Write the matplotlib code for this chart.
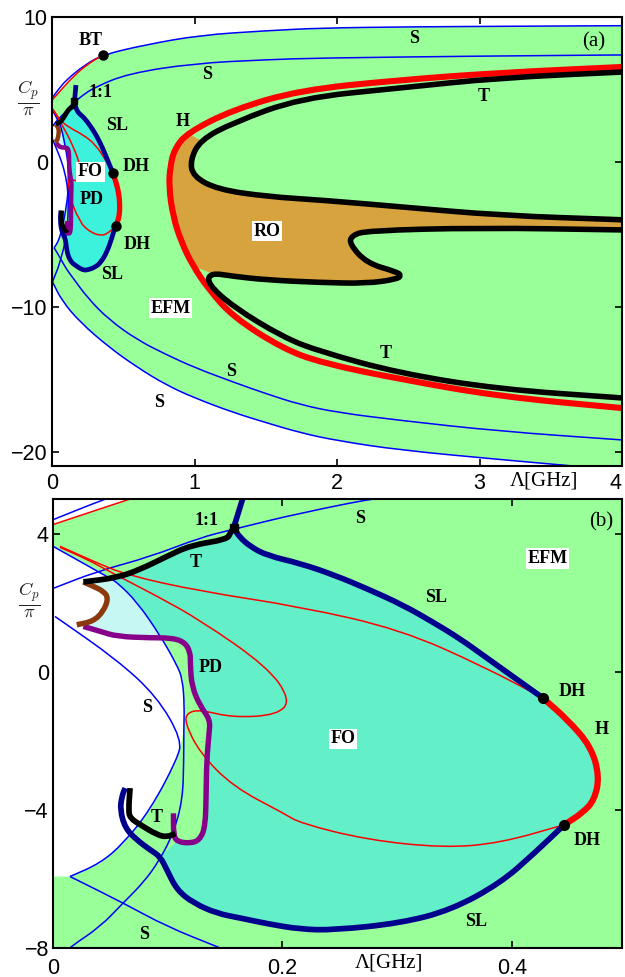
import matplotlib
matplotlib.use('Agg')
import matplotlib.pyplot as plt
from matplotlib.transforms import blended_transform_factory
from matplotlib.path import Path
from matplotlib.patches import PathPatch

# ---------------- data (Lambda [GHz], Cp/pi) ----------------
R0 = [(0.0, 4.26), (0.067, 5.0), (0.15, 5.9), (0.25, 6.75), (0.36, 7.4)]
B1 = [(0.0, 4.4), (0.045, 5.0), (0.1, 5.65), (0.23, 6.7), (0.36, 7.4), (0.65, 8.07),
      (1.04, 8.75), (1.5, 9.05), (1.88, 9.24), (2.5, 9.32), (3.2, 9.36), (4.0, 9.4)]
B2 = [(0.0, 2.41), (0.038, 2.9), (0.085, 3.33), (0.128, 3.88), (0.157, 4.12), (0.216, 4.6),
      (0.3, 5.15), (0.535, 6.1), (1.0, 6.8), (1.5, 7.05), (1.88, 7.17), (3.0, 7.3), (4.0, 7.38)]
B3 = [(0.0, 3.63), (0.05, 2.70), (0.056, 2.58), (0.073, 2.03), (0.093, 1.07), (0.108, 0.2),
      (0.113, -0.23), (0.1145, -1.0), (0.114, -1.68), (0.114, -2.55), (0.113, -3.71),
      (0.105, -4.67), (0.093, -5.45), (0.079, -6.1), (0.061, -6.7), (0.041, -7.39),
      (0.015, -7.97), (0.004, -8.3)]
B4 = [(0.0017, 1.6), (0.0556, 0.35), (0.0906, -0.72), (0.1124, -1.97), (0.108, -2.55),
      (0.0847, -4.0), (0.0614, -4.97), (0.041, -5.55), (0.0148, -5.93)]
L1 = [(0.0148, -5.93), (0.0614, -6.7), (0.0993, -7.38), (0.143, -7.96), (0.25, -9.4),
      (0.4, -10.9), (0.6, -12.3), (0.8, -13.3), (1.0, -14.2), (1.27, -15.2), (1.5, -16.0),
      (1.74, -16.76), (2.0, -17.3), (2.44, -17.85), (3.14, -18.6), (4.0, -19.2)]
L2 = [(0.004, -8.3), (0.07, -9.6), (0.2, -11.1), (0.4, -12.8), (0.6, -14.2), (0.8, -15.4),
      (1.0, -16.3), (1.27, -17.3), (1.5, -18.0), (1.74, -18.7), (2.0, -19.25), (2.44, -19.9),
      (3.14, -20.55), (3.6, -20.95), (4.0, -21.3)]
R1 = [(0.0061, 3.63), (0.035, 3.2), (0.064, 2.8), (0.128, 2.33), (0.216, 1.88), (0.303, 1.22),
      (0.376, 0.14), (0.427, -0.76)]
R2 = [(0.0061, 3.6), (0.03, 3.25), (0.052, 2.85), (0.09, 2.2), (0.128, 1.5), (0.187, 0.14),
      (0.207, -0.81), (0.196, -1.25), (0.157, -1.33), (0.128, -1.1), (0.117, -1.19),
      (0.115, -1.48), (0.128, -2.35), (0.157, -3.33), (0.2011, -4.1), (0.2157, -4.39),
      (0.274, -4.87), (0.341, -5.1), (0.39, -4.96), (0.4457, -4.43)]
SL_STUB = [(0.1575, 4.17), (0.1633, 4.79), (0.168, 5.3)]
SL_UP = [(0.1575, 4.17), (0.162, 3.92), (0.172, 3.62), (0.187, 3.36), (0.216, 3.13),
         (0.245, 2.8), (0.274, 2.4), (0.305, 1.93), (0.332, 1.42), (0.355, 0.95),
         (0.376, 0.45), (0.40, -0.12), (0.427, -0.76)]
HS = [(0.427, -0.76), (0.4486, -1.39), (0.469, -2.17), (0.4763, -3.03), (0.472, -3.71),
      (0.462, -4.08), (0.4457, -4.43)]
SL_LOW = [(0.4457, -4.43), (0.4195, -5.26), (0.390, -6.12), (0.347, -6.9), (0.303, -7.28),
          (0.245, -7.48), (0.216, -7.46), (0.187, -7.3), (0.163, -7.13), (0.143, -7.0),
          (0.1225, -6.7), (0.108, -6.32), (0.0993, -5.74), (0.0934, -5.35), (0.0847, -5.16),
          (0.073, -4.87), (0.0629, -4.53), (0.0585, -4.0), (0.060, -3.61), (0.0629, -3.37)]
T_UP_S = [(0.0265, 2.6), (0.0556, 2.72), (0.076, 2.96), (0.0993, 3.34), (0.12, 3.66),
          (0.1517, 3.83), (0.1546, 4.02), (0.1575, 4.17)]
T_LOW_S = [(0.0672, -3.37), (0.0658, -4.0), (0.0672, -4.24), (0.076, -4.43), (0.0905, -4.72),
           (0.0993, -4.79), (0.1066, -4.68)]
PD = [(0.105, -4.1), (0.105, -4.72), (0.108, -4.92), (0.1197, -4.97), (0.128, -4.87),
      (0.1328, -4.48), (0.1335, -3.52), (0.134, -2.55), (0.136, -1.8), (0.137, -1.39),
      (0.1284, -1.0), (0.121, -0.43), (0.1197, 0.2), (0.1197, 0.59), (0.1138, 0.88),
      (0.102, 0.98), (0.0847, 0.98), (0.0556, 1.02), (0.041, 1.17), (0.0265, 1.31)]
BR = [(0.0207, 1.36), (0.0352, 1.46), (0.044, 1.75), (0.0483, 2.13), (0.044, 2.33),
      (0.0352, 2.47), (0.0265, 2.6)]
H_BIG = [(4.0, 6.55), (3.14, 6.15), (2.44, 5.65), (1.74, 4.95), (1.27, 3.6), (0.95, 2.0),
         (0.86, 0.9), (0.83, -0.3), (0.82, -1.7), (0.85, -3.8), (0.91, -5.6), (0.99, -7.2),
         (1.1, -8.8), (1.27, -10.7), (1.62, -12.9), (1.9, -13.9), (2.44, -15.0),
         (3.14, -16.2), (4.0, -17.0)]
T_UP_B = [(4.0, 6.2), (3.14, 5.8), (2.44, 5.1), (1.74, 4.4), (1.27, 2.7), (1.04, 1.5),
          (0.97, 0.1), (0.99, -1.0), (1.16, -1.9), (1.51, -2.4), (1.9, -2.65), (2.44, -3.1),
          (3.14, -3.7), (4.0, -4.0)]
T_LOW_B = [(4.0, -4.7), (3.0, -4.55), (2.21, -4.75), (2.1, -5.1), (2.09, -5.7), (2.21, -7.0),
           (2.42, -7.6), (2.45, -7.85), (2.42, -8.1), (2.21, -8.4), (1.88, -8.33),
           (1.5, -8.15), (1.27, -7.9), (1.11, -7.66), (1.09, -8.4), (1.27, -10.0),
           (1.62, -12.1), (1.88, -13.1), (2.44, -14.6), (3.14, -15.7), (4.0, -16.3)]
DOTS_A = [(0.36, 7.4), (0.427, -0.76), (0.4457, -4.43)]
DOTS_B = [(0.427, -0.76), (0.4457, -4.43)]

LABELS_A = [("BT", 0.27, 8.4), ("S", 2.54, 8.55), ("S", 1.09, 6.0), ("1:1", 0.34, 4.8),
            ("T", 3.03, 4.5), ("H", 0.92, 2.8), ("SL", 0.46, 2.5), ("DH", 0.59, -0.35),
            ("PD", 0.28, -2.6), ("DH", 0.6, -5.7), ("SL", 0.42, -7.8), ("T", 2.34, -13.2),
            ("S", 1.26, -14.5), ("S", 0.75, -16.6)]
BOXED_A = [("FO", 0.27, -0.7), ("RO", 1.51, -4.8), ("EFM", 0.83, -10.1)]
LABELS_B = [("1:1", 0.134, 4.38), ("S", 0.268, 4.43), ("T", 0.124, 3.16), ("SL", 0.334, 2.14),
            ("PD", 0.137, 0.12), ("DH", 0.453, -0.58), ("S", 0.082, -1.04), ("H", 0.478, -1.68),
            ("T", 0.09, -4.23), ("DH", 0.466, -4.9), ("SL", 0.369, -7.22), ("S", 0.079, -7.62)]
BOXED_B = [("EFM", 0.431, 3.28), ("FO", 0.253, -1.94)]

# ---------------- styles ----------------
GREEN = '#99FF99'
CYAN = '#3DF2DC'
STRIPE = '#63EFC8'
LIGHTC = '#C6F7F2'
ORANGE = '#D6A33E'
NAVY = '#00008C'
BLUE = '#0000FF'
RED = '#FF0000'
PURPLE = '#86008A'
BROWN = '#8B3A0F'

plt.rcParams['font.family'] = ['Liberation Sans', 'DejaVu Sans']
plt.rcParams['mathtext.fontset'] = 'cm'

fig = plt.figure(figsize=(6.25, 9.77), dpi=100)
ax_a = fig.add_axes([52 / 625, 1 - 466 / 977, 570 / 625, 449 / 977])
ax_b = fig.add_axes([53 / 625, 1 - 948 / 977, 569 / 625, 449 / 977])


def xy(pts):
    return [p[0] for p in pts], [p[1] for p in pts]


def smooth_path(pts):
    """Quadratic-Bezier path using the points as control points (rendered by matplotlib)."""
    verts = [pts[0]]
    codes = [Path.MOVETO]
    if len(pts) < 3:
        verts += pts[1:]
        codes += [Path.LINETO] * (len(pts) - 1)
        return Path(verts, codes)
    mid = lambda p, q: ((p[0] + q[0]) / 2.0, (p[1] + q[1]) / 2.0)
    verts.append(mid(pts[0], pts[1]))
    codes.append(Path.LINETO)
    for i in range(1, len(pts) - 1):
        verts += [pts[i], mid(pts[i], pts[i + 1])]
        codes += [Path.CURVE3, Path.CURVE3]
    verts.append(pts[-1])
    codes.append(Path.LINETO)
    return Path(verts, codes)


def line(ax, pts, color, lw, z):
    ax.add_patch(PathPatch(smooth_path(pts), facecolor='none', edgecolor=color, lw=lw,
                           capstyle='butt', joinstyle='round', zorder=z))


def region(ax, pts, color, z):
    x, y = xy(pts)
    ax.fill(x, y, facecolor=color, edgecolor='none', zorder=z, lw=0)


green_poly = R0 + B1[5:] + [(4.0, -22.0)] + L2[::-1] + [(0.0, -8.3)]
white_poly = B3[0:2] + BR[::-1] + PD[16:][::-1] + B3[4:9] + B4[3:] + [(0.0, B4[-1][1])]
fo_poly = SL_UP + HS[1:] + SL_LOW[1:14] + PD[2:16] + B3[4:0:-1] + T_UP_S[1:]
lc_poly = BR + [B3[1]] + B3[2:5] + PD[16:]
ro_poly = H_BIG[5:12] + T_LOW_B[13::-1] + T_UP_B[13:4:-1]


def draw(ax, big, fo_color):
    thick = 3.4 if big else 4.1
    thin = 1.1
    region(ax, green_poly, GREEN, 1)
    region(ax, white_poly, 'white', 2)
    region(ax, fo_poly, fo_color, 2)
    region(ax, lc_poly, LIGHTC, 2)
    if big:
        region(ax, ro_poly, ORANGE, 2)
    for c in (B1, B2, B3, B4, L1, L2):
        line(ax, c, BLUE, thin, 4)
    for c in (R0, R1, R2):
        line(ax, c, RED, thin, 4)
    line(ax, H_BIG, RED, 4.4, 5)
    line(ax, T_UP_B, 'black', 4.0, 6)
    line(ax, T_LOW_B, 'black', 4.0, 6)
    line(ax, SL_UP, NAVY, thick, 6)
    line(ax, SL_LOW, NAVY, thick, 6)
    line(ax, SL_STUB, NAVY, thick, 6)
    line(ax, HS, RED, thick + 0.4, 6)
    line(ax, PD, PURPLE, thick - 0.2, 7)
    line(ax, BR, BROWN, thick - 0.2, 7)
    line(ax, T_UP_S, 'black', thick, 8)
    line(ax, T_LOW_S, 'black', thick, 8)
    ax.plot([T_UP_S[-1][0]], [T_UP_S[-1][1]], 's', color='black', ms=5 if big else 6, zorder=9)


draw(ax_a, True, CYAN)
draw(ax_b, False, STRIPE)

for (x, y) in DOTS_A:
    ax_a.plot([x], [y], 'o', color='black', ms=6.5, zorder=10)
for (x, y) in DOTS_B:
    ax_b.plot([x], [y], 'o', color='black', ms=7, zorder=10)

lab_kw = dict(family='Liberation Serif', weight='bold', fontsize=13, ha='center', va='center', zorder=11)
for ax, labs, boxed in ((ax_a, LABELS_A, BOXED_A), (ax_b, LABELS_B, BOXED_B)):
    for t, x, y in labs:
        ax.text(x, y, t, **lab_kw)
    for t, x, y in boxed:
        ax.text(x, y, t, bbox=dict(facecolor='white', edgecolor='none', pad=1.2), **lab_kw)

ax_a.text(3.8, 8.3, '(a)', family='Liberation Serif', fontsize=15, ha='center', va='center', zorder=11)
ax_b.text(0.478, 4.35, '(b)', family='Liberation Serif', fontsize=15, ha='center', va='center', zorder=11)

# axes formatting
ax_a.set_xlim(0, 4)
ax_a.set_ylim(-21, 10)
ax_a.set_xticks([0, 1, 2, 3, 4])
ax_a.set_xticklabels(['0', '1', '2', '3', '4'])
ax_a.set_yticks([-20, -10, 0, 10])
ax_a.set_yticklabels(['\u221220', '\u221210', '0', '10'])
ax_b.set_xlim(0, 0.496)
ax_b.set_ylim(-8, 5)
ax_b.set_xticks([0, 0.2, 0.4])
ax_b.set_xticklabels(['0', '0.2', '0.4'])
ax_b.set_yticks([-8, -4, 0, 4])
ax_b.set_yticklabels(['\u22128', '\u22124', '0', '4'])

for ax, pad in ((ax_a, 5), (ax_b, 7)):
    ax.set_facecolor('white')
    ax.tick_params(direction='in', top=True, right=True, length=5, width=1.2, labelsize=15.5)
    ax.tick_params(axis='x', pad=pad)
    ax.tick_params(axis='y', pad=3)
    for s in ax.spines.values():
        s.set_linewidth(1.5)
        s.set_zorder(20)

ax_a.get_xticklabels()[-1].set_horizontalalignment('right')

for ax, xl, yl in ((ax_a, 3.45, 4.5), (ax_b, 0.2926, 2.1)):
    tr = blended_transform_factory(ax.transData, ax.transAxes)
    ax.text(xl, -0.034, '\u039b[GHz]', transform=tr, family='Liberation Serif', fontsize=15,
            ha='center', va='center', clip_on=False)
    tr2 = blended_transform_factory(ax.transAxes, ax.transData)
    ax.text(-0.041, yl, r'$\frac{C_p}{\pi}$', transform=tr2, fontsize=19, ha='center',
            va='center', clip_on=False, color='#222222')

fig.savefig('out.png', dpi=100)
